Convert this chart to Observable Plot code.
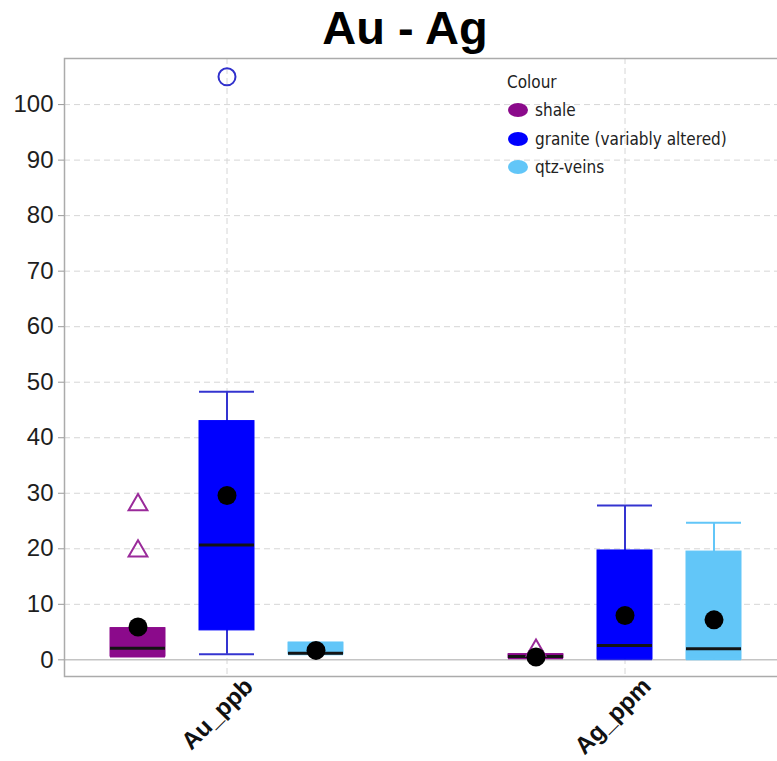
<!DOCTYPE html>
<html>
<head>
<meta charset="utf-8">
<script src="https://cdn.jsdelivr.net/npm/d3@7"></script>
<script src="https://cdn.jsdelivr.net/npm/@observablehq/plot@0.6"></script>
<style>
  html, body { margin: 0; padding: 0; background: #fff; overflow: hidden; }
  #wrap { position: relative; width: 777px; height: 761px; overflow: hidden; }
  #chart { position: absolute; left: 0; top: 0; }
  #title { position: absolute; left: 305px; width: 200px; top: 4px; text-align: center;
    font: bold 47px "Liberation Sans", Arial, sans-serif; line-height: 47px; color: #000; white-space: nowrap; }
  #legend { position: absolute; left: 507px; top: 68px; font-family: "DejaVu Sans Condensed", "DejaVu Sans", sans-serif;
    font-size: 17px; color: #222; }
  #legend .head { height: 28px; line-height: 28px; }
  #legend .row { height: 28.5px; display: flex; align-items: center; }
  #legend .sw { width: 20px; height: 14px; border-radius: 50%; margin-right: 7px; margin-left: 1px; }
</style>
</head>
<body>
<div id="wrap">
  <div id="chart"></div>
  <div id="title"></div>
  <div id="legend"></div>
</div>
<script>
const titleText = "Au - Ag";
const legendTitle = "Colour";
const variables = ["Au_ppb", "Ag_ppm"];
const groups = ["shale", "granite (variably altered)", "qtz-veins"];
const groupColors = ["#8b0a8b", "#0000fe", "#62c6f8"];
const whiskerColors = ["#8b0a8b", "#3434d0", "#62c6f8"];
const outlierColors = ["#9a2a9a", "#3030cc", "#62c6f8"];
const yTicks = [0, 10, 20, 30, 40, 50, 60, 70, 80, 90, 100];

// box summaries, one entry per (variable, group)
const boxVariable = ["Au_ppb", "Au_ppb", "Au_ppb", "Ag_ppm", "Ag_ppm", "Ag_ppm"];
const boxGroup = ["shale", "granite (variably altered)", "qtz-veins", "shale", "granite (variably altered)", "qtz-veins"];
const whiskerLow = [0.6, 1.0, 1.0, 0.3, 0.1, 0.1];
const q1 = [0.6, 5.3, 1.0, 0.3, 0.1, 0.1];
const median = [2.1, 20.7, 1.2, 0.6, 2.6, 2.0];
const q3 = [5.7, 43.0, 3.1, 1.0, 19.7, 19.5];
const whiskerHigh = [5.7, 48.3, 3.1, 1.0, 27.8, 24.7];
const mean = [5.9, 29.6, 1.7, 0.5, 8.0, 7.2];

// outliers
const outlierVariable = ["Au_ppb", "Au_ppb", "Au_ppb", "Ag_ppm"];
const outlierGroup = ["shale", "shale", "granite (variably altered)", "shale"];
const outlierValue = [27.9, 19.6, 105.0, 1.7];
const outlierSymbol = ["triangle", "triangle", "circle", "triangle"];

const boxes = boxVariable.map((v, i) => {
  const gi = groups.indexOf(boxGroup[i]);
  return {variable: v, group: boxGroup[i], lo: whiskerLow[i], q1: q1[i], med: median[i], q3: q3[i],
    hi: whiskerHigh[i], mean: mean[i], fillColor: groupColors[gi], lineColor: whiskerColors[gi]};
});
const outliers = outlierVariable.map((v, i) => ({
  variable: v, group: outlierGroup[i], value: outlierValue[i], symbol: outlierSymbol[i],
  color: outlierColors[groups.indexOf(outlierGroup[i])]
}));

// layout
const W = 788, H = 761, mL = 64, mR = 0, mT = 58, mB = 85;
const fxPadInner = 0.1823;
const fxStep = (W - mL - mR) / (variables.length - fxPadInner);
const span = fxStep * (variables.length - 1) + fxStep;
const extend = -(span - fxStep * (1 - fxPadInner)) - 20;

const chart = Plot.plot({
  width: W,
  height: H,
  marginLeft: mL,
  marginRight: mR,
  marginTop: mT,
  marginBottom: mB,
  style: {fontFamily: "'Liberation Sans', Arial, sans-serif", maxWidth: "none", background: "transparent", overflow: "visible"},
  fx: {domain: variables, paddingInner: fxPadInner, paddingOuter: 0, label: null},
  x: {domain: groups, paddingInner: 0.3855, paddingOuter: 0.512, axis: null},
  y: {domain: [-3, 108.3], axis: null},
  color: {type: "identity"},
  marks: [
    Plot.ruleY(yTicks.filter(d => d > 0), {facetAnchor: "left", insetRight: extend, stroke: "#d6d6d6", strokeDasharray: "6,4"}),
    Plot.ruleX([groups[1]], {stroke: "#d6d6d6", strokeDasharray: "6,4"}),
    Plot.ruleY([0], {facetAnchor: "left", insetRight: extend, stroke: "#c4c4c4", strokeWidth: 1.5}),
    Plot.ruleX(boxes, {fx: "variable", x: "group", y1: "lo", y2: "hi", stroke: "lineColor", strokeWidth: 2}),
    Plot.tickY(boxes, {fx: "variable", x: "group", y: "hi", stroke: "lineColor", strokeWidth: 2}),
    Plot.tickY(boxes, {fx: "variable", x: "group", y: "lo", stroke: "lineColor", strokeWidth: 2}),
    Plot.barY(boxes, {fx: "variable", x: "group", y1: "q1", y2: "q3", fill: "fillColor", stroke: "fillColor", strokeWidth: 1}),
    Plot.tickY(boxes, {fx: "variable", x: "group", y: "med", stroke: "#141414", strokeWidth: 3}),
    Plot.dot(outliers.filter(d => d.symbol === "triangle"), {fx: "variable", x: "group", y: "value", symbol: "triangle", r: 7, stroke: "color", strokeWidth: 2, fill: "none"}),
    Plot.dot(outliers.filter(d => d.symbol === "circle"), {fx: "variable", x: "group", y: "value", symbol: "circle", r: 8.5, stroke: "color", strokeWidth: 2, fill: "none"}),
    Plot.dot(boxes, {fx: "variable", x: "group", y: "mean", r: 9.5, fill: "#000"}),
    Plot.frame({facetAnchor: "left", insetRight: extend, stroke: "#ababab", strokeWidth: 1.5}),
    Plot.axisY({ticks: yTicks, tickSize: 6, tickPadding: 5, fontSize: 24, stroke: "#9a9a9a", fill: "#1e1e1e", label: null}),
    Plot.axisFx({anchor: "bottom", tickRotate: -45, tickSize: 0, fontSize: 24, fontWeight: "bold", fill: "#111", label: null, dx: 22, dy: -6})
  ]
});
document.getElementById("chart").appendChild(chart);

document.getElementById("title").textContent = titleText;
const legend = document.getElementById("legend");
const head = document.createElement("div");
head.className = "head";
head.textContent = legendTitle;
legend.appendChild(head);
groups.forEach((g, i) => {
  const row = document.createElement("div");
  row.className = "row";
  const sw = document.createElement("span");
  sw.className = "sw";
  sw.style.background = groupColors[i];
  const label = document.createElement("span");
  label.textContent = g;
  row.appendChild(sw);
  row.appendChild(label);
  legend.appendChild(row);
});
</script>
</body>
</html>
